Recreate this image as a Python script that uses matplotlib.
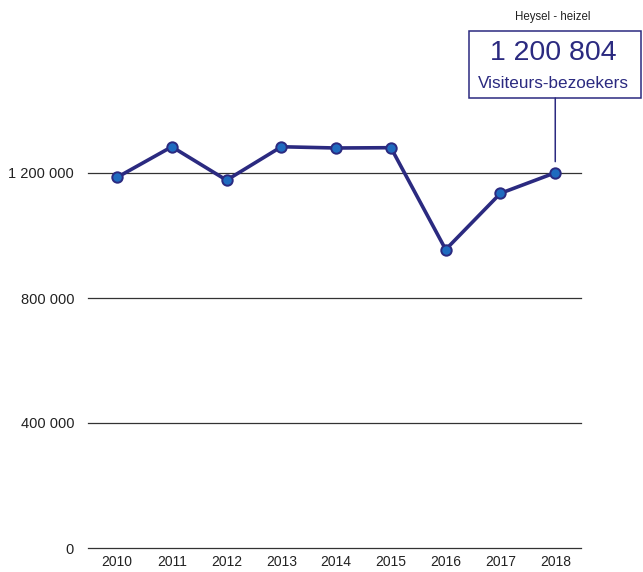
import matplotlib
matplotlib.use("Agg")
import matplotlib.pyplot as plt
from matplotlib.patches import Rectangle

plt.rcParams['font.family'] = ['Liberation Sans', 'DejaVu Sans']

years = [2010, 2011, 2012, 2013, 2014, 2015, 2016, 2017, 2018]
visitors = [1186000, 1284000, 1177000, 1284000, 1280000, 1281000, 955000, 1135000, 1200804]
ytick_values = [0, 400000, 800000, 1200000]
ytick_labels = ["0", "400 000", "800 000", "1 200 000"]
title_small = "Heysel - heizel"
big_value = "1 200 804"
big_label = "Visiteurs-bezoekers"

navy = "#2B2A80"
marker_face = "#1F6BBF"

fig = plt.figure(figsize=(6.43, 5.72), dpi=100)
ax = fig.add_axes([88/643, 1 - 548/572, (581-88)/643, 500/572])

ax.plot(years, visitors, color=navy, lw=2.6, marker='o', markersize=7.5,
        markerfacecolor=marker_face, markeredgecolor=navy, markeredgewidth=1.4,
        zorder=3, clip_on=False)

ax.set_xlim(years[0] - 0.53, years[-1] + 0.47)
ax.set_ylim(0, 1600000)
ax.set_yticks(ytick_values)
ax.set_yticklabels(ytick_labels)
ax.set_xticks(years)
ax.set_xticklabels([str(y) for y in years])
ax.tick_params(axis='y', length=0, pad=10, labelsize=10.5, colors='#222222')
ax.tick_params(axis='x', length=0, pad=5, labelsize=10, colors='#222222')
for s in ax.spines.values():
    s.set_visible(False)
ax.yaxis.grid(True, color='#333333', lw=0.9)
for gl in ax.get_ygridlines():
    gl.set_clip_on(False)
ax.set_axisbelow(True)

# annotation box
box_left, box_right = 469/643, 641/643
box_bottom, box_top = 1 - 98/572, 1 - 31/572
fig.patches.append(Rectangle((box_left, box_bottom), box_right - box_left, box_top - box_bottom,
                             transform=fig.transFigure, fill=False, edgecolor=navy, lw=1.1))
cx = 553/643
fig.text(cx, 1 - 17/572, title_small, ha='center', va='center', fontsize=8.3, color='#222222')
fig.text(cx, 1 - 53/572, big_value, ha='center', va='center', fontsize=20.5, color=navy)
fig.text(cx, 1 - 83/572, big_label, ha='center', va='center', fontsize=12.3, color=navy)

ax.annotate('', xy=(years[-1], visitors[-1]), xycoords='data',
            xytext=(years[-1], box_bottom), textcoords=('data', 'figure fraction'),
            arrowprops=dict(arrowstyle='-', color=navy, lw=1.1, shrinkA=0, shrinkB=8))

fig.savefig("out.png", dpi=100)
